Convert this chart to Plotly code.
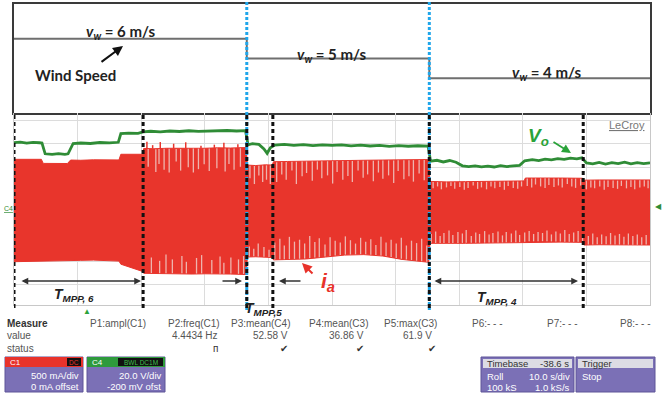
import numpy as np
import plotly.graph_objects as go

W, H = 665, 397

# ---------------- data ----------------
# wind speed steps (s, m/s)
wind_t = [0, 36.6, 65.3, 100]
wind_v = [6, 5, 4, 4]

# event markers (s)
mpp_lines_t = [0, 20.3, 40.7, 89.5]
step_lines_t = [36.6, 65.3]

# output voltage Vo (s, V)
vo_t = [0, 1, 2, 3, 4, 4.4, 4.9, 6, 7, 8, 8.5, 9.3, 10.5, 12, 13.5, 15, 16.4, 16.8, 18, 19.5,
        20.3, 21.5, 23, 24.5, 26, 27.5, 29, 30.5, 32, 33.5, 35, 36.4, 36.8, 37.5, 38.5, 39.3, 39.8, 40.3,
        41, 42.5, 44, 45.5, 47, 48.5, 50, 51.5, 53, 54.5, 56, 57.5, 59, 60.5, 62, 63.5, 65.1,
        65.5, 66.5, 67.5, 68.5, 69.5, 70.5, 71.5, 72.5, 73.5, 74.5, 75.5, 76.5, 77.5, 78.5, 79.5,
        80.3, 81.5, 82.5, 83.5, 84.5, 85.5, 86.5, 87.5, 88.5, 89.3, 90, 91, 92, 93, 94, 95, 96, 97, 98, 99, 100]
vo_v = [55.3, 55.8, 54.9, 55.5, 55.2, 55.0, 46.0, 45.5, 46.1, 45.6, 46.0, 54.6, 55.0, 54.6, 55.4, 55.1, 55.6, 62.8, 63.3, 63.0,
        64.2, 64.8, 64.3, 65.0, 64.6, 65.2, 64.7, 65.1, 64.9, 65.4, 65.0, 65.3, 53.5, 54.4, 53.8, 50.0, 46.4, 51.0,
        53.2, 53.9, 53.1, 53.6, 52.8, 53.4, 53.0, 53.5, 52.6, 53.2, 52.5, 53.0, 52.2, 52.8, 52.3, 52.7, 52.4,
        39.8, 40.6, 39.2, 40.4, 39.0, 36.0, 35.3, 35.9, 35.1, 35.8, 35.0, 36.2, 35.4, 35.9, 36.4,
        40.2, 41.1, 40.4, 41.5, 40.9, 42.0, 41.3, 42.4, 41.8, 42.6, 38.4, 37.6, 38.9, 37.5, 38.6, 37.8, 39.0, 37.6, 38.7, 37.9, 38.5]

# current ia envelope (s, mA)
ia_t = [0, 1.5, 3.0, 4.3, 4.6, 6.0, 7.5, 8.4, 8.9, 10.5, 12.5, 14.5, 16.5, 16.8, 18.0, 19.2, 20.2, 20.4,
        22.0, 24.0, 26.0, 28.0, 30.0, 32.0, 34.0, 36.5, 36.7, 38.0, 39.5, 40.6, 40.8, 43.0, 46.0, 49.0,
        52.0, 55.0, 58.0, 61.0, 63.5, 65.2, 65.4, 68.0, 71.0, 74.0, 77.0, 80.2, 80.4, 83.0, 86.0, 89.4,
        89.6, 92.0, 95.0, 98.0, 100]
ia_upper = [1035, 1040, 1030, 1035, 950, 945, 955, 948, 1020, 1015, 1025, 1018, 1022, 1140, 1135, 1145, 1140, 1262,
            1255, 1265, 1260, 1270, 1265, 1275, 1270, 1280, 915, 905, 920, 915, 985, 990, 1000, 1005,
            1010, 1015, 1020, 1025, 1030, 1030, 575, 565, 570, 575, 580, 585, 645, 650, 645, 640,
            600, 605, 600, 610, 605]
ia_lower = [-1098, -1095, -1100, -1096, -1085, -1080, -1078, -1082, -1075, -1070, -1065, -1072, -1085, -1150, -1200, -1260, -1300, -1340,
            -1345, -1350, -1345, -1355, -1350, -1360, -1355, -1365, -1000, -995, -1005, -1010, -1060, -1055, -1040, -1000,
            -960, -950, -980, -1050, -1090, -1110, -715, -720, -715, -710, -705, -700, -685, -680, -690, -695,
            -750, -745, -750, -755, -750]

# outward current peaks (s, mA)
peak_t = [20.9, 21.8, 23.0, 25.1, 27.0, 29.4, 31.5, 33.0, 35.2]
peak_v = [1400, 1330, 1395, 1360, 1390, 1320, 1340, 1380, 1350]

# inner (pale) dips of the current envelope, top edge (s, mA)
dip_top_t = [21.1, 22.3, 22.8, 23.6, 24.4, 25.5, 26.2, 27.4, 28.2, 29.0, 29.9, 30.7, 31.9, 33.2, 33.8, 34.6, 35.6,
             37.1, 37.8, 38.5, 39.1, 39.7, 40.3,
             41.3, 42.1, 42.8, 43.7, 44.4, 45.3, 46.0, 46.9, 47.7, 48.4, 49.3, 50.1, 50.8, 51.7, 52.5, 53.2, 54.1,
             54.9, 55.6, 56.5, 57.3, 58.0, 58.9, 59.7, 60.4, 61.3, 62.1, 62.8, 63.7, 64.5,
             65.9, 66.6, 67.2, 68.0, 68.7, 69.3, 70.1, 70.8, 71.4, 72.2, 72.9, 73.5, 74.3, 75.0, 75.6, 76.4, 77.1,
             77.7, 78.5, 79.2, 79.8, 80.7, 81.4, 82.0, 82.8, 83.5, 84.1, 84.9, 85.6, 86.2, 87.0, 87.7, 88.3, 89.1,
             90.0, 90.7, 91.3, 92.1, 92.8, 93.4, 94.2, 94.9, 95.5, 96.3, 97.0, 97.6, 98.4, 99.1, 99.7]
dip_top_v = [880, 770, 940, 820, 760, 990, 800, 870, 760, 830, 930, 790, 850, 780, 940, 820, 880,
             640, 520, 700, 560, 610, 520,
             560, 720, 610, 800, 520, 680, 750, 590, 820, 640, 700, 530, 770, 610, 690, 560, 800,
             650, 720, 580, 760, 630, 700, 540, 790, 620, 680, 570, 740, 600,
             430, 470, 410, 450, 480, 420, 460, 400, 440, 490, 420, 450, 410, 470, 430, 460, 400,
             480, 440, 420, 470, 480, 450, 510, 470, 440, 500, 460, 490, 450, 520, 470, 440, 490,
             410, 450, 430, 470, 400, 460, 440, 420, 480, 430, 460, 410, 450, 470, 430]
# inner (pale) dips, bottom edge (s, mA)
dip_bot_t = [21.6, 22.9, 23.9, 24.9, 26.4, 27.1, 28.7, 29.5, 31.1, 32.4, 33.0, 34.1, 35.3, 36.1,
             37.0, 37.7, 38.4, 39.3, 40.1,
             41.0, 41.8, 42.5, 43.3, 44.1, 44.9, 45.7, 46.5, 47.3, 48.0, 48.9, 49.7, 50.5, 51.3, 52.1, 52.9,
             53.7, 54.5, 55.3, 56.1, 56.9, 57.7, 58.5, 59.3, 60.1, 60.9, 61.7, 62.5, 63.3, 64.1, 64.9,
             65.6, 66.3, 67.0, 67.6, 68.4, 69.0, 69.8, 70.5, 71.1, 71.9, 72.6, 73.2, 74.0, 74.7, 75.3, 76.1,
             76.8, 77.4, 78.2, 78.9, 79.5, 80.3, 81.0, 81.7, 82.4, 83.1, 83.8, 84.5, 85.2, 85.9, 86.6, 87.3,
             88.0, 88.7, 89.4, 90.3, 91.0, 91.7, 92.4, 93.1, 93.8, 94.5, 95.2, 95.9, 96.6, 97.3, 98.0, 98.7, 99.4]
dip_bot_v = [-1010, -1080, -950, -1050, -980, -1100, -1020, -960, -1060, -990, -1120, -1010, -1050, -980,
             -780, -830, -720, -790, -850,
             -700, -620, -760, -580, -680, -640, -720, -560, -690, -610, -740, -590, -660, -700, -570, -650,
             -720, -600, -680, -630, -750, -580, -700, -640, -720, -600, -760, -660, -710, -620, -760,
             -520, -470, -560, -500, -450, -540, -480, -510, -440, -560, -490, -520, -460, -530, -500, -470,
             -550, -480, -510, -450, -540, -490, -460, -520, -480, -500, -450, -530, -470, -510, -440, -520,
             -490, -460, -540, -560, -510, -590, -530, -570, -500, -550, -520, -580, -510, -560, -530, -590, -540]

# measurement panel
meas_headers = ["P1:ampl(C1)", "P2:freq(C1)", "P3:mean(C4)", "P4:mean(C3)", "P5:max(C3)", "P6:- - -", "P7:- - -", "P8:- - -"]
meas_values = ["", "4.4434 Hz", "52.58 V", "36.86 V", "61.9 V", "", "", ""]
meas_status = ["", "ᴨ", "✔", "✔", "✔", "", "", ""]

# ---------------- helpers ----------------
def px(x):
    return x / W

def py(y):
    return 1 - y / H

RED = "#e8352c"
PALE = "#eeb4ae"
GREEN = "#2f8c36"
PURPLE = "#7b70b6"

fig = go.Figure()

# wind speed
fig.add_trace(go.Scatter(x=wind_t, y=wind_v, mode="lines", line=dict(color="#6f6f6f", width=2, shape="hv"),
                         xaxis="x", yaxis="y", hoverinfo="skip"))

# current band
fig.add_trace(go.Scatter(x=ia_t, y=ia_upper, mode="lines", line=dict(color=RED, width=1),
                         xaxis="x2", yaxis="y2", hoverinfo="skip"))
fig.add_trace(go.Scatter(x=ia_t, y=ia_lower, mode="lines", line=dict(color=RED, width=1), fill="tonexty",
                         fillcolor=RED, xaxis="x2", yaxis="y2", hoverinfo="skip"))

# outward peaks
pk_x, pk_y = [], []
for t, v in zip(peak_t, peak_v):
    pk_x += [t, t, None]
    pk_y += [float(np.interp(t, ia_t, ia_upper)), v, None]
fig.add_trace(go.Scatter(x=pk_x, y=pk_y, mode="lines", line=dict(color=RED, width=1.5),
                         xaxis="x2", yaxis="y2", hoverinfo="skip"))

# pale inner dips
dx, dy = [], []
for t, v in zip(dip_top_t, dip_top_v):
    dx += [t, t, None]
    dy += [float(np.interp(t, ia_t, ia_upper)) - 10, v, None]
for t, v in zip(dip_bot_t, dip_bot_v):
    dx += [t, t, None]
    dy += [float(np.interp(t, ia_t, ia_lower)) + 10, v, None]
fig.add_trace(go.Scatter(x=dx, y=dy, mode="lines", line=dict(color=PALE, width=1.3),
                         xaxis="x2", yaxis="y2", hoverinfo="skip"))

# Vo
fig.add_trace(go.Scatter(x=vo_t, y=vo_v, mode="lines", line=dict(color=GREEN, width=2.8),
                         xaxis="x2", yaxis="y3", hoverinfo="skip"))

dom_x = [14 / W, 650 / W]
fig.update_layout(
    width=W, height=H, margin=dict(l=0, r=0, t=0, b=0),
    paper_bgcolor="white", plot_bgcolor="white", showlegend=False,
    xaxis=dict(domain=dom_x, range=[0, 100], anchor="y", showgrid=False, zeroline=False,
               showticklabels=False, ticks="", showline=True, mirror=True, linecolor="#3a3a3a", linewidth=2),
    yaxis=dict(domain=[py(113), py(4)], range=[2.25, 7.75], anchor="x", showgrid=False, zeroline=False,
               showticklabels=False, ticks="", showline=True, mirror=True, linecolor="#3a3a3a", linewidth=2),
    xaxis2=dict(domain=dom_x, range=[0, 100], anchor="y2", showgrid=True, gridcolor="#dcdcdc", gridwidth=1,
                dtick=10, tick0=0, zeroline=False, showticklabels=False, ticks="",
                showline=True, mirror=False, linecolor="#c8c8c8", linewidth=1),
    yaxis2=dict(domain=[py(305), py(113)], range=[-2000, 2000], anchor="x2", showgrid=True, gridcolor="#dcdcdc",
                dtick=490, tick0=-1583, zeroline=False, showticklabels=False, ticks="",
                showline=True, mirror=True, linecolor="#c8c8c8", linewidth=1),
    yaxis3=dict(overlaying="y2", anchor="x2", range=[-80, 80], visible=False),
)

shapes = []
# blue dotted wind step markers
for t in step_lines_t:
    shapes.append(dict(type="line", xref="x2", yref="paper", x0=t, x1=t, y0=py(310), y1=py(2),
                       line=dict(color="#1fa6ea", width=3, dash="3px,2px")))
# black dashed MPP markers
for t in mpp_lines_t + step_lines_t:
    shapes.append(dict(type="line", xref="x2", yref="paper", x0=t, x1=t, y0=py(308), y1=py(114),
                       line=dict(color="#111111", width=3, dash="4px,3px")))

# bottom panel boxes
def rect(x0, y0, x1, y1, color, line=None):
    shapes.append(dict(type="rect", xref="paper", yref="paper", x0=px(x0), x1=px(x1), y0=py(y1), y1=py(y0),
                       fillcolor=color, line=dict(width=1 if line else 0, color=line or color), layer="above"))

rect(5, 357, 83, 392, PURPLE, "#5e5498")
rect(5, 357, 83, 367, "#e8332b")
rect(67, 358, 81, 366, "#111111")
rect(87, 357, 165, 392, PURPLE, "#5e5498")
rect(87, 357, 165, 367, "#2e9a3c")
rect(118, 358, 163, 366, "#111111")
rect(481, 357, 574, 392, PURPLE, "#5e5498")
rect(483, 359, 572, 368, "#dcdce4")
rect(576, 357, 655, 392, PURPLE, "#5e5498")
rect(578, 359, 653, 368, "#dcdce4")

fig.update_layout(shapes=shapes)

ann = []

def txt(x, y, s, size=10, color="#444444", anchor="center", family="Liberation Sans"):
    ann.append(dict(xref="paper", yref="paper", x=px(x), y=py(y), text=s, showarrow=False,
                    xanchor=anchor, yanchor="middle", font=dict(size=size, color=color, family=family)))

def arrow(x0, y0, x1, y1, color="#333333", width=1.5, head=2, both=False, size=1):
    ann.append(dict(xref="paper", yref="paper", axref="pixel", ayref="pixel", x=px(x1), y=py(y1),
                    ax=x0 - x1, ay=y0 - y1, text="", showarrow=True, arrowcolor=color, arrowwidth=width,
                    arrowhead=head, arrowsize=size, arrowside="end+start" if both else "end",
                    startarrowhead=head, startarrowsize=size))

# top labels
txt(120, 32, "<b><i>v</i><sub><i>w</i></sub> = 6 m/s</b>", 15, "#222222", family="Lato")
txt(331, 55, "<b><i>v</i><sub><i>w</i></sub> = 5 m/s</b>", 15, "#222222", family="Lato")
txt(546, 73, "<b><i>v</i><sub><i>w</i></sub> = 4 m/s</b>", 15, "#222222", family="Lato")
txt(75, 75, "<b>Wind Speed</b>", 15, "#222222", family="Lato")
arrow(100, 63, 123, 46, "#111111", 2, 2)

# scope labels
txt(627, 125, "<u>LeCroy</u>", 11, "#777777")
txt(538, 137, "<b><i>V</i><sub><i>o</i></sub></b>", 19, "#2aa33a", family="Liberation Sans")
arrow(552, 141, 571, 153, "#2aa33a", 1.8, 2)
txt(328, 282, "<b><i>i</i><sub><i>a</i></sub></b>", 21, "#e8322a", family="Liberation Sans")
arrow(314, 275, 302, 263, "#e8322a", 2, 2)
txt(8, 208, "<u>C4</u>", 7, GREEN)
txt(658, 206, "◀", 8, GREEN)
txt(87, 311, "▲", 8, "#2aa33a")

arrow(20, 281, 141, 281, "#333333", 1.5, 2, both=True, size=0.9)
txt(74, 295, "<b><i>T</i><sub><i>MPP, 6</i></sub></b>", 14, "#222222")
arrow(221, 281, 242, 281, "#333333", 1.5, 2, size=0.9)
arrow(302, 281, 279, 281, "#333333", 1.5, 2, size=0.9)
txt(263, 309, "<b><i>T</i><sub><i>MPP,5</i></sub></b>", 14, "#222222")
arrow(433, 281, 578, 281, "#333333", 1.5, 2, both=True, size=0.9)
txt(497, 298, "<b><i>T</i><sub><i>MPP, 4</i></sub></b>", 14, "#222222")

# measurement panel
txt(5, 323, "<b>Measure</b>", 10, "#333333", "left")
txt(5, 335, "value", 10, "#555555", "left")
txt(5, 348, "status", 10, "#555555", "left")
hdr_x = [118, 194, 260, 338, 410, 487, 562, 635]
val_x = [143, 220, 290, 366, 434, 0, 0, 0]
st_x = [0, 215, 284, 360, 432, 0, 0, 0]
for i, h in enumerate(meas_headers):
    txt(hdr_x[i], 323, h, 10, "#555555")
    if meas_values[i]:
        txt(val_x[i], 335, meas_values[i], 10, "#555555", "right")
    if meas_status[i]:
        txt(st_x[i], 348, meas_status[i], 10, "#333333")

txt(8, 362, "C1", 8, "#ffffff", "left")
txt(74, 362, "DC", 6.5, "#e8332b")
txt(81, 375, "500 mA/div", 9.5, "#ffffff", "right")
txt(81, 386, "0 mA offset", 9.5, "#ffffff", "right")
txt(90, 362, "C4", 8, "#ffffff", "left")
txt(140.5, 362, "BWL DC1M", 6.5, "#3fbf4f")
txt(163, 375, "20.0 V/div", 9.5, "#ffffff", "right")
txt(163, 386, "-200 mV ofst", 9.5, "#ffffff", "right")

txt(485, 363.5, "Timebase", 9.5, "#333333", "left")
txt(571, 363.5, "-38.6 s", 9.5, "#333333", "right")
txt(485, 376, "Roll", 9.5, "#ffffff", "left")
txt(572, 376, "10.0 s/div", 9.5, "#ffffff", "right")
txt(485, 387, "100 kS", 9.5, "#ffffff", "left")
txt(572, 387, "1.0 kS/s", 9.5, "#ffffff", "right")
txt(580, 363.5, "Trigger", 9.5, "#333333", "left")
txt(580, 376, "Stop", 9.5, "#ffffff", "left")

fig.update_layout(annotations=ann)

fig.write_html("out.html", config={"displayModeBar": False},
               post_script="document.body.style.margin='0';document.body.style.overflow='hidden';")
